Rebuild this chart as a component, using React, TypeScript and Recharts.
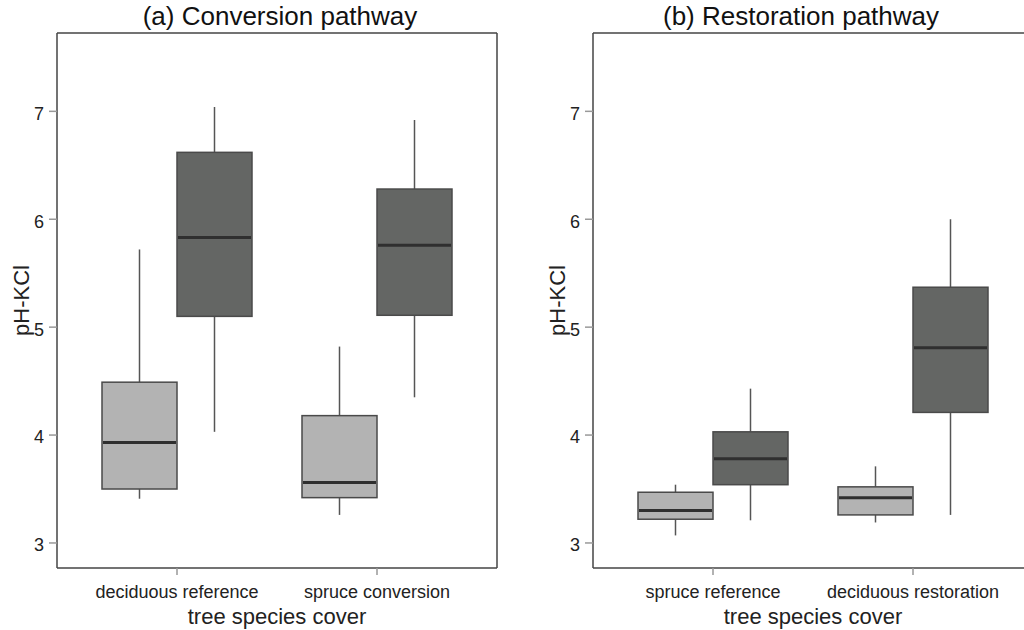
import React from 'react';
import { ComposedChart, Bar, Line, XAxis, YAxis } from 'recharts';

// ---------- (a) Conversion pathway ----------
const conversionCategories = ['deciduous reference', 'spruce conversion'];
const convLightMin = [3.41, 3.26];
const convLightQ1 = [3.5, 3.42];
const convLightMedian = [3.93, 3.56];
const convLightQ3 = [4.49, 4.18];
const convLightMax = [5.72, 4.82];
const convDarkMin = [4.03, 4.35];
const convDarkQ1 = [5.1, 5.11];
const convDarkMedian = [5.83, 5.76];
const convDarkQ3 = [6.62, 6.28];
const convDarkMax = [7.04, 6.92];

// ---------- (b) Restoration pathway ----------
const restorationCategories = ['spruce reference', 'deciduous restoration'];
const restLightMin = [3.07, 3.19];
const restLightQ1 = [3.22, 3.26];
const restLightMedian = [3.3, 3.42];
const restLightQ3 = [3.47, 3.52];
const restLightMax = [3.54, 3.71];
const restDarkMin = [3.21, 3.26];
const restDarkQ1 = [3.54, 4.21];
const restDarkMedian = [3.78, 4.81];
const restDarkQ3 = [4.03, 5.37];
const restDarkMax = [4.43, 6.0];

const yTicks = [3, 4, 5, 6, 7];
const yDomain = [2.768, 7.726];

const LIGHT_FILL = '#b3b3b3';
const DARK_FILL = '#646664';
const FONT = 'Arial, "Liberation Sans", Helvetica, sans-serif';

type Stats = { min: number; q1: number; median: number; q3: number; max: number };

function buildRows(
  cats: string[],
  lMin: number[], lQ1: number[], lMed: number[], lQ3: number[], lMax: number[],
  dMin: number[], dQ1: number[], dMed: number[], dQ3: number[], dMax: number[]
) {
  return cats.map((c, i) => ({
    category: c,
    light: [lMin[i], lMax[i]],
    dark: [dMin[i], dMax[i]],
    lightStats: { min: lMin[i], q1: lQ1[i], median: lMed[i], q3: lQ3[i], max: lMax[i] },
    darkStats: { min: dMin[i], q1: dQ1[i], median: dMed[i], q3: dQ3[i], max: dMax[i] },
  }));
}

const conversionData = buildRows(
  conversionCategories,
  convLightMin, convLightQ1, convLightMedian, convLightQ3, convLightMax,
  convDarkMin, convDarkQ1, convDarkMedian, convDarkQ3, convDarkMax
);
const restorationData = buildRows(
  restorationCategories,
  restLightMin, restLightQ1, restLightMedian, restLightQ3, restLightMax,
  restDarkMin, restDarkQ1, restDarkMedian, restDarkQ3, restDarkMax
);

function makeBoxShape(statsKey: 'lightStats' | 'darkStats', fill: string) {
  return (props: any) => {
    const { x, y, width, height, payload } = props;
    const s: Stats = payload[statsKey];
    if (x == null || y == null || !s) return <g />;
    const top = Math.min(y, y + height);
    const h = Math.abs(height);
    const span = s.max - s.min;
    const py = (v: number) => top + (h * (s.max - v)) / span;
    const cx = x + width / 2;
    const yMax = py(s.max);
    const yQ3 = py(s.q3);
    const yMed = py(s.median);
    const yQ1 = py(s.q1);
    const yMin = py(s.min);
    return (
      <g>
        <line x1={cx} x2={cx} y1={yMax} y2={yQ3} stroke="#555" strokeWidth={1.5} />
        <line x1={cx} x2={cx} y1={yQ1} y2={yMin} stroke="#555" strokeWidth={1.5} />
        <rect x={x} y={yQ3} width={width} height={yQ1 - yQ3} fill={fill} stroke="#4a4a4a" strokeWidth={1.5} />
        <line x1={x + 1} x2={x + width - 1} y1={yMed} y2={yMed} stroke="#2f2f2f" strokeWidth={3} />
      </g>
    );
  };
}

const lightShape = makeBoxShape('lightStats', LIGHT_FILL);
const darkShape = makeBoxShape('darkStats', DARK_FILL);

function Panel({ data }: { data: any[] }) {
  return (
    <ComposedChart
      width={536}
      height={630}
      data={data}
      margin={{ top: 32, right: 38, bottom: 0, left: 0 }}
      barGap={0}
    >
      <XAxis
        dataKey="category"
        type="category"
        padding={{ left: 20, right: 20 }}
        height={62}
        tickSize={7}
        tickMargin={10}
        tick={{ fontSize: 18, fill: '#222', fontFamily: FONT }}
        tickLine={{ stroke: '#999', strokeWidth: 1.5 }}
        axisLine={{ stroke: '#444', strokeWidth: 1.5 }}
        label={{
          value: 'tree species cover',
          position: 'insideBottom',
          offset: 6,
          fontSize: 22,
          fill: '#222',
          fontFamily: FONT,
        }}
      />
      <XAxis
        xAxisId="top"
        dataKey="category"
        type="category"
        orientation="top"
        height={1}
        tick={false}
        tickLine={false}
        axisLine={{ stroke: '#444', strokeWidth: 1.5 }}
      />
      <YAxis
        type="number"
        domain={yDomain}
        ticks={yTicks}
        allowDataOverflow
        width={57}
        tickSize={8}
        tickMargin={5}
        tick={{ fontSize: 18, fill: '#222', fontFamily: FONT, dy: 2 }}
        tickLine={{ stroke: '#999', strokeWidth: 1.5 }}
        axisLine={{ stroke: '#444', strokeWidth: 1.5 }}
        label={{
          value: 'pH-KCl',
          angle: -90,
          position: 'insideLeft',
          offset: 21,
          fontSize: 22,
          fill: '#222',
          fontFamily: FONT,
          style: { textAnchor: 'middle' },
        }}
      />
      <YAxis
        yAxisId="right"
        orientation="right"
        type="number"
        domain={yDomain}
        allowDataOverflow
        width={1}
        tick={false}
        tickLine={false}
        axisLine={{ stroke: '#444', strokeWidth: 1.5 }}
      />
      <Bar dataKey="light" barSize={75} isAnimationActive={false} shape={lightShape} />
      <Bar dataKey="dark" barSize={75} isAnimationActive={false} shape={darkShape} />
      <Line
        xAxisId="top"
        yAxisId="right"
        dataKey={(d: any) => d.lightStats.median}
        stroke="transparent"
        strokeWidth={0}
        dot={false}
        activeDot={false}
        legendType="none"
        isAnimationActive={false}
      />
    </ComposedChart>
  );
}

const titleStyle = (cx: number): React.CSSProperties => ({
  position: 'absolute',
  left: cx - 200,
  width: 400,
  top: 1,
  textAlign: 'center',
  fontFamily: FONT,
  fontSize: 26,
  lineHeight: '30px',
  color: '#111',
  whiteSpace: 'nowrap',
});

export default function App() {
  return (
    <div
      style={{
        position: 'absolute',
        left: 0,
        top: 0,
        width: 1024,
        height: 630,
        overflow: 'hidden',
        background: '#fff',
      }}
    >
      <div style={{ position: 'absolute', left: 0, top: 0 }}>
        <Panel data={conversionData} />
      </div>
      <div style={{ position: 'absolute', left: 536, top: 0 }}>
        <Panel data={restorationData} />
      </div>
      <div style={titleStyle(280)}>(a) Conversion pathway</div>
      <div style={titleStyle(801)}>(b) Restoration pathway</div>
    </div>
  );
}
